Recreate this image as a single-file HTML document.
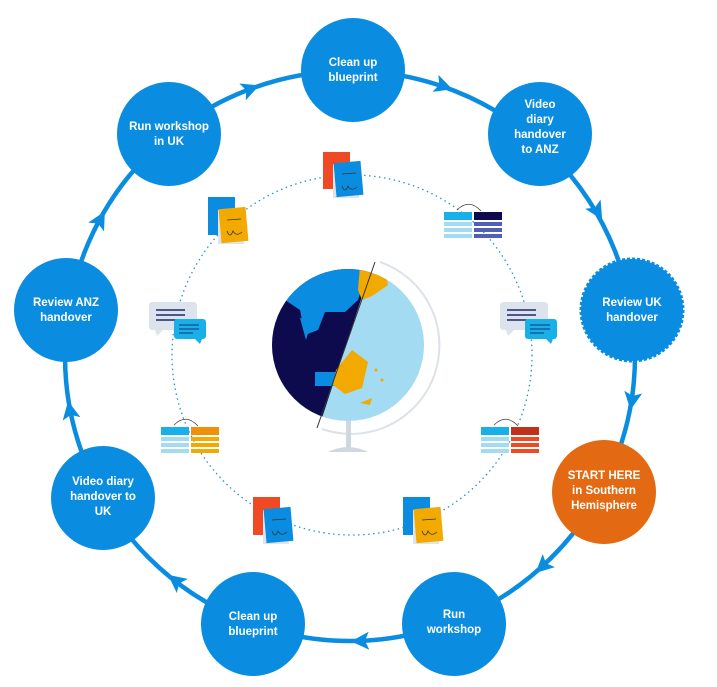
<!DOCTYPE html>
<html><head><meta charset="utf-8"><style>
html,body{margin:0;padding:0;background:#fff;}
svg{display:block}
text{font-family:"Liberation Sans",sans-serif;font-weight:bold;font-size:11.5px;fill:#fff;text-anchor:middle}
</style></head><body>
<svg width="717" height="687" viewBox="0 0 717 687" xmlns="http://www.w3.org/2000/svg">
<defs>
<clipPath id="g"><circle cx="348" cy="345" r="76"/></clipPath>
<g id="arr"><polygon points="-8,-9 10,0 -8,9 -4,0" fill="#0a8de0"/></g>
</defs>
<circle cx="350" cy="356" r="285" fill="none" stroke="#0a8de0" stroke-width="4.5"/>
<g>
<use href="#arr" transform="translate(250,89) rotate(-21)"/>
<use href="#arr" transform="translate(443,86) rotate(19)"/>
<use href="#arr" transform="translate(597,211) rotate(59)"/>
<use href="#arr" transform="translate(632,400) rotate(99)"/>
<use href="#arr" transform="translate(543,566) rotate(137)"/>
<use href="#arr" transform="translate(361,641) rotate(178)"/>
<use href="#arr" transform="translate(176,581) rotate(218)"/>
<use href="#arr" transform="translate(70,411) rotate(259)"/>
<use href="#arr" transform="translate(100,220) rotate(-61)"/>
</g>
<circle cx="352" cy="355" r="180" fill="none" stroke="#2a8fd8" stroke-width="1.3" stroke-dasharray="1.5 3.5"/>
<!-- globe -->
<g clip-path="url(#g)">
<rect x="260" y="260" width="180" height="170" fill="#a3dbf2"/>
<polygon points="260,260 374,260 318,430 260,430" fill="#0e0a4e"/>
<path d="M285,282 Q330,262 368,270 L358,300 L345,312 L325,312 L318,330 L305,335 L300,310 L285,300 Z" fill="#0a8de0"/>
<path d="M300,318 L312,320 L306,340 Z" fill="#0a8de0"/>
<rect x="315" y="372" width="22" height="14" fill="#0a8de0"/>
<path d="M360,266 L385,272 L388,285 L372,296 L362,300 L358,290 Z" fill="#f2a900"/>
<path d="M336,370 L352,350 L368,362 L362,388 L345,394 L333,385 Z" fill="#f2a900"/>
<path d="M285,410 L320,416 L318,430 L285,430 Z" fill="#0a8de0"/>
<circle cx="376" cy="370" r="1.5" fill="#f2a900"/><circle cx="382" cy="380" r="1.5" fill="#f2a900"/>
<path d="M360,403 L372,398 L370,405 Z" fill="#f2a900"/>
</g>
<path d="M380,262 A84,84 0 0 1 322,429" fill="none" stroke="#dde2e8" stroke-width="2"/>
<line x1="375" y1="262" x2="317" y2="428" stroke="#333" stroke-width="1"/>
<rect x="346" y="421" width="5" height="27" fill="#cfd8e0"/>
<path d="M328,452 Q348,442 368,452 Z" fill="#cfd8e0"/>
<!-- sticky notes -->
<g transform="translate(323,152)"><rect width="27" height="37" fill="#f04a25"/><rect x="10" y="12" width="26" height="34" fill="#e0e4ea"/><rect x="12" y="10" width="27" height="34" fill="#0a8de0" transform="rotate(-5 25 27)"/><path d="M19,22 L33,21 M19,34 Q22,42 25,34 Q28,40 34,35" stroke="#333" fill="none" stroke-width="0.8"/></g>
<g transform="translate(208,197)"><rect width="27" height="38" fill="#0a8de0"/><rect x="10" y="13" width="26" height="34" fill="#e0e4ea"/><rect x="12" y="11" width="27" height="34" fill="#f2a900" transform="rotate(-5 25 28)"/><path d="M19,23 L33,22 M19,34 Q22,42 25,34 Q28,40 34,35" stroke="#333" fill="none" stroke-width="0.8"/></g>
<g transform="translate(253,497)"><rect width="27" height="38" fill="#f04a25"/><rect x="10" y="13" width="26" height="34" fill="#e0e4ea"/><rect x="12" y="11" width="27" height="34" fill="#0a8de0" transform="rotate(-5 25 28)"/><path d="M19,23 L33,22 M19,34 Q22,42 25,34 Q28,40 34,35" stroke="#333" fill="none" stroke-width="0.8"/></g>
<g transform="translate(403,497)"><rect width="27" height="38" fill="#0a8de0"/><rect x="10" y="13" width="26" height="34" fill="#e0e4ea"/><rect x="12" y="11" width="27" height="34" fill="#f2a900" transform="rotate(-5 25 28)"/><path d="M19,23 L33,22 M19,34 Q22,42 25,34 Q28,40 34,35" stroke="#333" fill="none" stroke-width="0.8"/></g>
<!-- chat bubbles -->
<g transform="translate(149,302)"><rect width="48" height="28" rx="3" fill="#dde3ec"/><polygon points="6,28 14,28 8,34" fill="#dde3ec"/><path d="M7,8 H36 M7,13 H36 M7,18 H30" stroke="#1d2a6b" stroke-width="1.6"/><rect x="25" y="17" width="32" height="20" rx="3" fill="#18b0e8"/><polygon points="46,37 53,37 51,42" fill="#18b0e8"/><path d="M30,23 H50 M30,27 H50 M30,31 H44" stroke="#1d4a90" stroke-width="1.3"/></g>
<g transform="translate(500,302)"><rect width="48" height="28" rx="3" fill="#dde3ec"/><polygon points="6,28 14,28 8,34" fill="#dde3ec"/><path d="M7,8 H36 M7,13 H36 M7,18 H30" stroke="#1d2a6b" stroke-width="1.6"/><rect x="25" y="17" width="32" height="20" rx="3" fill="#18b0e8"/><polygon points="46,37 53,37 51,42" fill="#18b0e8"/><path d="M30,23 H50 M30,27 H50 M30,31 H44" stroke="#1d4a90" stroke-width="1.3"/></g>
<!-- tables -->
<g transform="translate(444,210)"><path d="M13,0 Q25,-12 37,1" fill="none" stroke="#444" stroke-width="0.8"/><rect y="2" width="28" height="8" fill="#18b0e8"/><rect y="12" width="28" height="4" fill="#a3dbf2"/><rect y="18" width="28" height="4" fill="#a3dbf2"/><rect y="24" width="28" height="4" fill="#a3dbf2"/><rect x="30" y="2" width="28" height="8" fill="#0e0a4e"/><rect x="30" y="12" width="28" height="4" fill="#5060b8"/><rect x="30" y="18" width="28" height="4" fill="#5060b8"/><rect x="30" y="24" width="28" height="4" fill="#5060b8"/></g>
<g transform="translate(161,425)"><path d="M13,0 Q25,-12 37,1" fill="none" stroke="#444" stroke-width="0.8"/><rect y="2" width="28" height="8" fill="#18b0e8"/><rect y="12" width="28" height="4" fill="#a3dbf2"/><rect y="18" width="28" height="4" fill="#a3dbf2"/><rect y="24" width="28" height="4" fill="#a3dbf2"/><rect x="30" y="2" width="28" height="8" fill="#f0900a"/><rect x="30" y="12" width="28" height="4" fill="#f2a900"/><rect x="30" y="18" width="28" height="4" fill="#f2a900"/><rect x="30" y="24" width="28" height="4" fill="#f2a900"/></g>
<g transform="translate(481,425)"><path d="M13,0 Q25,-12 37,1" fill="none" stroke="#444" stroke-width="0.8"/><rect y="2" width="28" height="8" fill="#18b0e8"/><rect y="12" width="28" height="4" fill="#a3dbf2"/><rect y="18" width="28" height="4" fill="#a3dbf2"/><rect y="24" width="28" height="4" fill="#a3dbf2"/><rect x="30" y="2" width="28" height="8" fill="#c0301a"/><rect x="30" y="12" width="28" height="4" fill="#f04a25"/><rect x="30" y="18" width="28" height="4" fill="#f04a25"/><rect x="30" y="24" width="28" height="4" fill="#f04a25"/></g>
<!-- nodes -->
<g fill="#0a8de0">
<circle cx="353" cy="70" r="52"/>
<circle cx="169" cy="134" r="52"/>
<circle cx="540" cy="134" r="52"/>
<circle cx="66" cy="310" r="52"/>
<circle cx="103" cy="498" r="52"/>
<circle cx="253" cy="624" r="52"/>
<circle cx="454" cy="624" r="52"/>
</g>
<circle cx="632" cy="310" r="51" fill="#0a8de0" stroke="#0a8de0" stroke-width="3" stroke-dasharray="3 2"/>
<circle cx="604" cy="492" r="52" fill="#e36a12"/>
<text x="353" y="66">Clean up</text><text x="353" y="81">blueprint</text>
<text x="169" y="130">Run workshop</text><text x="169" y="145">in UK</text>
<text x="540" y="108">Video</text><text x="540" y="123">diary</text><text x="540" y="138">handover</text><text x="540" y="153">to ANZ</text>
<text x="66" y="306">Review ANZ</text><text x="66" y="321">handover</text>
<text x="632" y="306">Review UK</text><text x="632" y="321">handover</text>
<text x="604" y="479">START HERE</text><text x="604" y="494">in Southern</text><text x="604" y="509">Hemisphere</text>
<text x="103" y="485">Video diary</text><text x="103" y="500">handover to</text><text x="103" y="515">UK</text>
<text x="253" y="620">Clean up</text><text x="253" y="635">blueprint</text>
<text x="454" y="618">Run</text><text x="454" y="633">workshop</text>
</svg>
</body></html>
